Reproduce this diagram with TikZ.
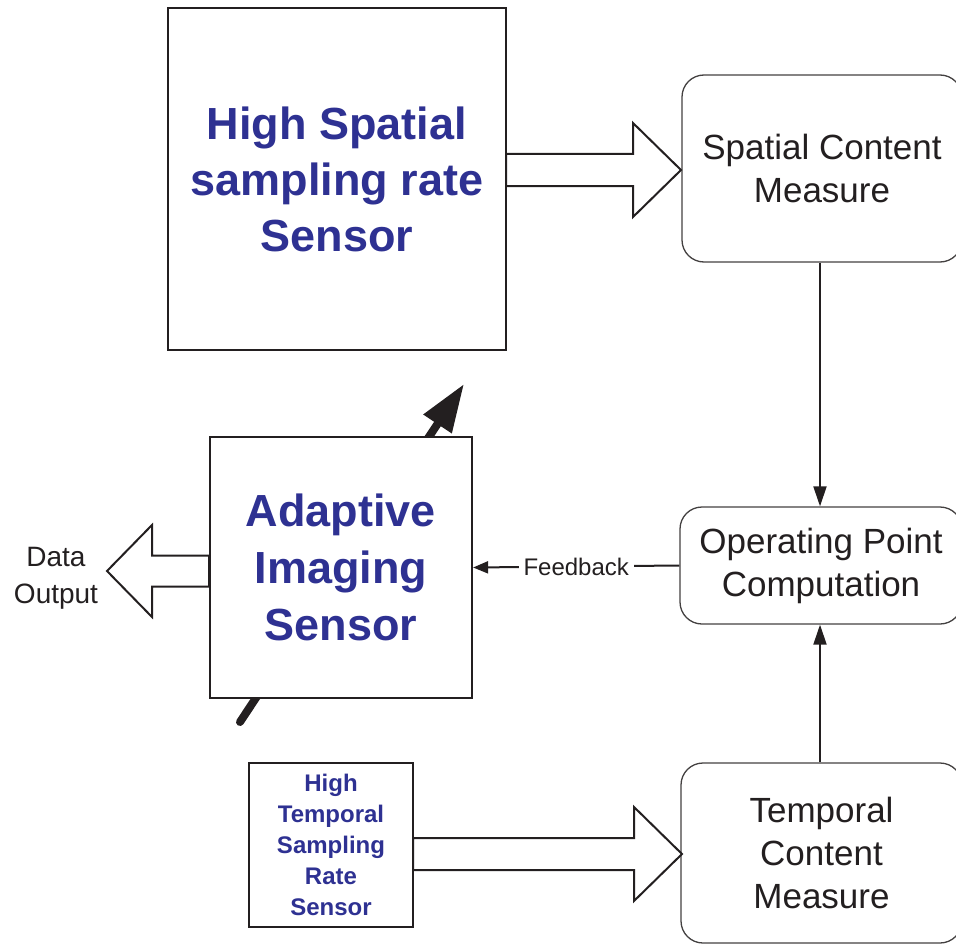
\documentclass[tikz,border=0pt]{standalone}
\usepackage{fontspec}
\setmainfont{Liberation Sans}
\usetikzlibrary{arrows.meta,calc}
\definecolor{sensorblue}{RGB}{46,49,146}
\definecolor{ink}{RGB}{35,31,32}

% hollow block arrow: start x, head base x, tip x, centre y, half shaft, half head
\newcommand\fatarrow[6]{%
  \draw[hollow] (#1,#4-#5) -- (#2,#4-#5) -- (#2,#4-#6) -- (#3,#4)
    -- (#2,#4+#6) -- (#2,#4+#5) -- (#1,#4+#5) -- cycle;}

\begin{document}
\begin{tikzpicture}[x=1pt,y=-1pt,
  sensorbox/.style={draw=ink, line width=2.2pt, fill=white, align=center,
    text=sensorblue, inner sep=0pt},
  measurebox/.style={draw=ink!85, line width=1.3pt, rounded corners=22pt,
    fill=white, align=center, text=ink, inner sep=0pt,
    font=\fontsize{35pt}{43pt}\selectfont},
  flow/.style={draw=ink, line width=2pt, -{Triangle[length=20pt,width=13pt]}},
  hollow/.style={draw=ink, line width=2pt, fill=white, line join=miter}]

\useasboundingbox (0,0) rectangle (956,947);

% sensors
\node[sensorbox, minimum width=338pt, minimum height=342pt,
  font=\bfseries\fontsize{45pt}{56pt}\selectfont] (hs) at (337,179)
  {High Spatial\\sampling rate\\Sensor};

\coordinate (tail) at (240,722);
\coordinate (tip) at (464,384);
\draw[draw=ink, line width=8pt, line cap=round,
  -{Triangle[length=48pt,width=32pt]}] (tail) -- (tip);

\node[sensorbox, minimum width=262pt, minimum height=261pt,
  font=\bfseries\fontsize{45pt}{57pt}\selectfont] (ais) at (341,567.5)
  {Adaptive\\Imaging\\Sensor};

\node[sensorbox, line width=2pt, minimum width=164pt, minimum height=164pt,
  font=\bfseries\fontsize{24pt}{31pt}\selectfont] (hts) at (331,845)
  {High\\Temporal\\Sampling\\Rate\\Sensor};

% measures and computation
\node[measurebox, minimum width=280pt, minimum height=187pt] (scm) at (822,168.5)
  {Spatial Content\\Measure};
\node[measurebox, minimum width=282pt, minimum height=117pt] (op) at (821,565.5)
  {Operating Point\\Computation};
\node[measurebox, minimum width=281pt, minimum height=180pt] (tcm) at (821.5,853)
  {Temporal\\Content\\Measure};

% data flow
\fatarrow{506}{633}{681}{170}{16}{47}
\fatarrow{413}{634}{682}{854}{16}{47}
\fatarrow{209}{152}{107}{571}{15.5}{46}

\node[align=center, text=ink, font=\fontsize{28pt}{37pt}\selectfont] (out) at (56,578)
  {Data\\Output};

\draw[flow] (scm.south -| 820,0) -- (op.north -| 820,0);
\draw[flow] (tcm.north -| 820,0) -- (op.south -| 820,0);
\draw[draw=ink, line width=2pt, -{Triangle[length=15pt,width=12pt]}]
  (op.west) -- node[fill=white, inner xsep=5pt, text=ink,
  font=\fontsize{24pt}{28pt}\selectfont] {Feedback} (ais.east);

\end{tikzpicture}
\end{document}
